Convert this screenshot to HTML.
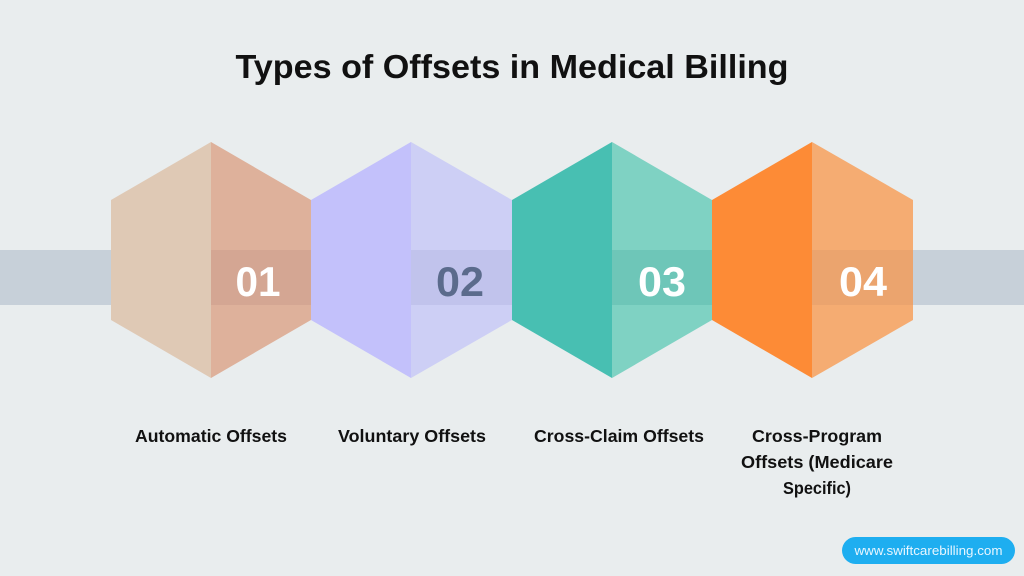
<!DOCTYPE html>
<html><head><meta charset="utf-8"><style>
html,body{margin:0;padding:0;background:#e9edee;}
svg{display:block;}
</style></head><body>
<svg width="1024" height="576" viewBox="0 0 1024 576" xmlns="http://www.w3.org/2000/svg" font-family="Liberation Sans, sans-serif">
<rect width="1024" height="576" fill="#e9edee"/>
<text x="512" y="78" text-anchor="middle" font-size="33" font-weight="bold" fill="#111" textLength="553" lengthAdjust="spacingAndGlyphs">Types of Offsets in Medical Billing</text>
<rect x="0" y="250" width="1024" height="55" fill="#c7d0d9"/>
<polygon points="211,142 111,200 111,320 211,378" fill="#dfc9b5"/>
<polygon points="211,142 311,200 311,320 211,378" fill="#deb19b"/>
<polygon points="411,142 311,200 311,320 411,378" fill="#c3c1fb"/>
<polygon points="411,142 512,200 512,320 411,378" fill="#cdcff5"/>
<polygon points="612,142 512,200 512,320 612,378" fill="#48bfb2"/>
<polygon points="612,142 712,200 712,320 612,378" fill="#7fd2c3"/>
<polygon points="812,142 712,200 712,320 812,378" fill="#fd8b36"/>
<polygon points="812,142 913,200 913,320 812,378" fill="#f5ac72"/>
<rect x="211" y="250" width="100" height="55" fill="#d4a693"/>
<rect x="411" y="250" width="101" height="55" fill="#c1c3ec"/>
<rect x="612" y="250" width="100" height="55" fill="#6ec6b8"/>
<rect x="812" y="250" width="101" height="55" fill="#eba46e"/>
<g font-size="42" font-weight="bold" text-anchor="middle">
<text x="258" y="296" fill="#fff" textLength="45" lengthAdjust="spacingAndGlyphs">01</text>
<text x="460" y="296" fill="#5b6b8c" textLength="48" lengthAdjust="spacingAndGlyphs">02</text>
<text x="662" y="296" fill="#fff" textLength="48" lengthAdjust="spacingAndGlyphs">03</text>
<text x="863" y="296" fill="#fff" textLength="48" lengthAdjust="spacingAndGlyphs">04</text>
</g>
<g font-size="17.5" font-weight="bold" fill="#111" text-anchor="middle">
<text x="211" y="442" textLength="152" lengthAdjust="spacingAndGlyphs">Automatic Offsets</text>
<text x="412" y="442" textLength="148" lengthAdjust="spacingAndGlyphs">Voluntary Offsets</text>
<text x="619" y="442" textLength="170" lengthAdjust="spacingAndGlyphs">Cross-Claim Offsets</text>
<text x="817" y="442" textLength="130" lengthAdjust="spacingAndGlyphs">Cross-Program</text>
<text x="817" y="468" textLength="152" lengthAdjust="spacingAndGlyphs">Offsets (Medicare</text>
<text x="817" y="494" textLength="68" lengthAdjust="spacingAndGlyphs">Specific)</text>
</g>
<rect x="842" y="537" width="173" height="27" rx="13.5" fill="#1eaef0"/>
<text x="928.5" y="555" text-anchor="middle" font-size="13" fill="#e8f6ff" textLength="148" lengthAdjust="spacingAndGlyphs">www.swiftcarebilling.com</text>
</svg>
</body></html>
